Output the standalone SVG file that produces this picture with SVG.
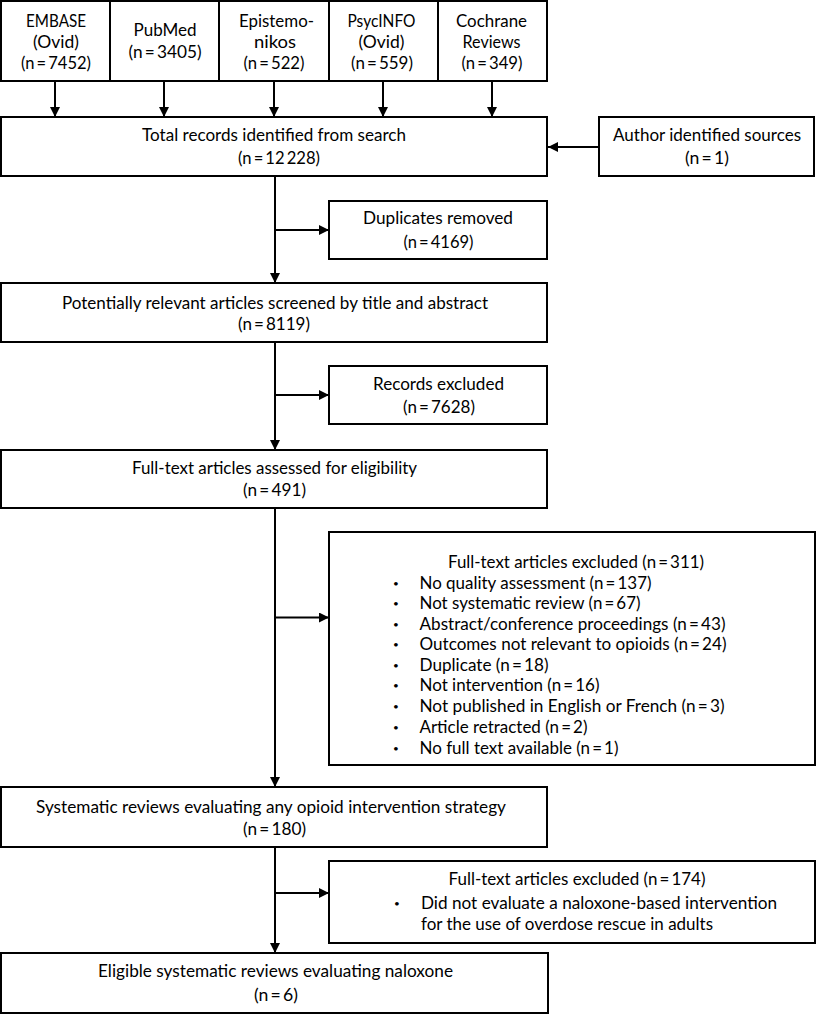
<svg xmlns="http://www.w3.org/2000/svg" width="816" height="1015" viewBox="0 0 816 1015">
<style>
.box{fill:#fff;stroke:#000;stroke-width:2}
.t{font-family:Lato,"Open Sans",sans-serif;font-size:17px;fill:#000}
.c{text-anchor:middle}
.b{font-family:Lato,"Open Sans",sans-serif;font-size:10px;fill:#000;text-anchor:middle}
.conn{stroke:#000;stroke-width:2;fill:none;marker-end:url(#arr)}
</style>
<defs>
<marker id="arr" markerUnits="userSpaceOnUse" markerWidth="11" markerHeight="11" refX="10" refY="5" orient="auto">
<path d="M0,0 L10,5 L0,10 z" fill="#000"/>
</marker>
</defs>
<rect width="816" height="1015" fill="#fff"/>
<g id="connectors">
<path class="conn" d="M55,81 V117"/>
<path class="conn" d="M164,81 V117"/>
<path class="conn" d="M274,81 V117"/>
<path class="conn" d="M383,81 V117"/>
<path class="conn" d="M492,81 V117"/>
<path class="conn" d="M599,147 H548"/>
<path class="conn" d="M275,176 V283"/>
<path class="conn" d="M275,230 H329"/>
<path class="conn" d="M275,342 V450"/>
<path class="conn" d="M275,395 H329"/>
<path class="conn" d="M275,508 V787"/>
<path class="conn" d="M275,617.5 H329"/>
<path class="conn" d="M275,847 V953"/>
<path class="conn" d="M275,893 H329"/>
</g>
<g id="embase">
<rect class="box" x="1" y="1" width="109" height="80"/>
<text class="t c" x="56" y="26.5" textLength="60" lengthAdjust="spacingAndGlyphs">EMBASE</text>
<text class="t c" x="56" y="47.5" textLength="46" lengthAdjust="spacingAndGlyphs">(Ovid)</text>
<text class="t c" x="56" y="68.5" textLength="70" lengthAdjust="spacingAndGlyphs">(n&#8201;=&#8201;7452)</text>
</g>
<g id="pubmed">
<rect class="box" x="110" y="1" width="109" height="80"/>
<text class="t c" x="165" y="36" textLength="63" lengthAdjust="spacingAndGlyphs">PubMed</text>
<text class="t c" x="165" y="58" textLength="73" lengthAdjust="spacingAndGlyphs">(n&#8201;=&#8201;3405)</text>
</g>
<g id="epistemonikos">
<rect class="box" x="219" y="1" width="110" height="80"/>
<text class="t c" x="276.5" y="26.5" textLength="75" lengthAdjust="spacingAndGlyphs">Epistemo-</text>
<text class="t c" x="275" y="47.5" textLength="42" lengthAdjust="spacingAndGlyphs">nikos</text>
<text class="t c" x="274" y="68.5" textLength="61" lengthAdjust="spacingAndGlyphs">(n&#8201;=&#8201;522)</text>
</g>
<g id="psycinfo">
<rect class="box" x="329" y="1" width="109" height="80"/>
<text class="t c" x="381.5" y="26.5" textLength="68" lengthAdjust="spacingAndGlyphs">PsycINFO</text>
<text class="t c" x="381.5" y="47.5" textLength="46" lengthAdjust="spacingAndGlyphs">(Ovid)</text>
<text class="t c" x="382" y="68.5" textLength="62" lengthAdjust="spacingAndGlyphs">(n&#8201;=&#8201;559)</text>
</g>
<g id="cochrane">
<rect class="box" x="438" y="1" width="109" height="80"/>
<text class="t c" x="491.5" y="26.5" textLength="71" lengthAdjust="spacingAndGlyphs">Cochrane</text>
<text class="t c" x="491.5" y="47.5" textLength="58" lengthAdjust="spacingAndGlyphs">Reviews</text>
<text class="t c" x="492" y="68.5" textLength="61" lengthAdjust="spacingAndGlyphs">(n&#8201;=&#8201;349)</text>
</g>
<g id="total">
<rect class="box" x="1" y="117" width="546" height="59"/>
<text class="t c" x="274" y="141" textLength="264" lengthAdjust="spacingAndGlyphs">Total records identified from search</text>
<text class="t c" x="279" y="164" textLength="82" lengthAdjust="spacingAndGlyphs">(n&#8201;=&#8201;12&#8201;228)</text>
</g>
<g id="author">
<rect class="box" x="599" y="117" width="215" height="59"/>
<text class="t c" x="707" y="141" textLength="188" lengthAdjust="spacingAndGlyphs">Author identified sources</text>
<text class="t c" x="707" y="164" textLength="44" lengthAdjust="spacingAndGlyphs">(n&#8201;=&#8201;1)</text>
</g>
<g id="duplicates">
<rect class="box" x="329" y="201" width="218" height="58"/>
<text class="t c" x="438" y="224" textLength="150" lengthAdjust="spacingAndGlyphs">Duplicates removed</text>
<text class="t c" x="438.5" y="248" textLength="70" lengthAdjust="spacingAndGlyphs">(n&#8201;=&#8201;4169)</text>
</g>
<g id="screened">
<rect class="box" x="1" y="283" width="546" height="59"/>
<text class="t c" x="275" y="308.5" textLength="426" lengthAdjust="spacingAndGlyphs">Potentially relevant articles screened by title and abstract</text>
<text class="t c" x="274" y="330" textLength="72" lengthAdjust="spacingAndGlyphs">(n&#8201;=&#8201;8119)</text>
</g>
<g id="records-excluded">
<rect class="box" x="329" y="366" width="218" height="58"/>
<text class="t c" x="438.5" y="390" textLength="131" lengthAdjust="spacingAndGlyphs">Records excluded</text>
<text class="t c" x="439" y="412.5" textLength="72" lengthAdjust="spacingAndGlyphs">(n&#8201;=&#8201;7628)</text>
</g>
<g id="fulltext">
<rect class="box" x="1" y="450" width="546" height="58"/>
<text class="t c" x="274.5" y="474" textLength="285" lengthAdjust="spacingAndGlyphs">Full-text articles assessed for eligibility</text>
<text class="t c" x="274.5" y="496" textLength="63" lengthAdjust="spacingAndGlyphs">(n&#8201;=&#8201;491)</text>
</g>
<g id="fulltext-excluded">
<rect class="box" x="329" y="532" width="486" height="233"/>
<text class="t c" x="576" y="567.5" textLength="256" lengthAdjust="spacingAndGlyphs">Full-text articles excluded (n&#8201;=&#8201;311)</text>
<text class="b" x="396" y="586.5">•</text>
<text class="t" x="419.5" y="588.5" textLength="232" lengthAdjust="spacingAndGlyphs">No quality assessment (n&#8201;=&#8201;137)</text>
<text class="b" x="396" y="607">•</text>
<text class="t" x="419.5" y="609" textLength="221" lengthAdjust="spacingAndGlyphs">Not systematic review (n&#8201;=&#8201;67)</text>
<text class="b" x="396" y="627.5">•</text>
<text class="t" x="419.5" y="629.5" textLength="306" lengthAdjust="spacingAndGlyphs">Abstract/conference proceedings (n&#8201;=&#8201;43)</text>
<text class="b" x="396" y="648">•</text>
<text class="t" x="419.5" y="650" textLength="307" lengthAdjust="spacingAndGlyphs">Outcomes not relevant to opioids (n&#8201;=&#8201;24)</text>
<text class="b" x="396" y="668.5">•</text>
<text class="t" x="419.5" y="670.5" textLength="129" lengthAdjust="spacingAndGlyphs">Duplicate (n&#8201;=&#8201;18)</text>
<text class="b" x="396" y="689">•</text>
<text class="t" x="419.5" y="691" textLength="180" lengthAdjust="spacingAndGlyphs">Not intervention (n&#8201;=&#8201;16)</text>
<text class="b" x="396" y="709.5">•</text>
<text class="t" x="419.5" y="711.5" textLength="305" lengthAdjust="spacingAndGlyphs">Not published in English or French (n&#8201;=&#8201;3)</text>
<text class="b" x="396" y="730.5">•</text>
<text class="t" x="419.5" y="732.5" textLength="168" lengthAdjust="spacingAndGlyphs">Article retracted (n&#8201;=&#8201;2)</text>
<text class="b" x="396" y="752">•</text>
<text class="t" x="419.5" y="754" textLength="199" lengthAdjust="spacingAndGlyphs">No full text available (n&#8201;=&#8201;1)</text>
</g>
<g id="systematic">
<rect class="box" x="1" y="787" width="546" height="60"/>
<text class="t c" x="271" y="812.5" textLength="470" lengthAdjust="spacingAndGlyphs">Systematic reviews evaluating any opioid intervention strategy</text>
<text class="t c" x="274.5" y="835" textLength="63" lengthAdjust="spacingAndGlyphs">(n&#8201;=&#8201;180)</text>
</g>
<g id="naloxone-excluded">
<rect class="box" x="329" y="861" width="486" height="82"/>
<text class="t c" x="577" y="885" textLength="257" lengthAdjust="spacingAndGlyphs">Full-text articles excluded (n&#8201;=&#8201;174)</text>
<text class="b" x="397" y="907">•</text>
<text class="t" x="421" y="909" textLength="356" lengthAdjust="spacingAndGlyphs">Did not evaluate a naloxone-based intervention</text>
<text class="t" x="421" y="929.5" textLength="292" lengthAdjust="spacingAndGlyphs">for the use of overdose rescue in adults</text>
</g>
<g id="eligible">
<rect class="box" x="1" y="953" width="547" height="60"/>
<text class="t c" x="275.5" y="977" textLength="355" lengthAdjust="spacingAndGlyphs">Eligible systematic reviews evaluating naloxone</text>
<text class="t c" x="276" y="1000.5" textLength="44" lengthAdjust="spacingAndGlyphs">(n&#8201;=&#8201;6)</text>
</g>
</svg>
